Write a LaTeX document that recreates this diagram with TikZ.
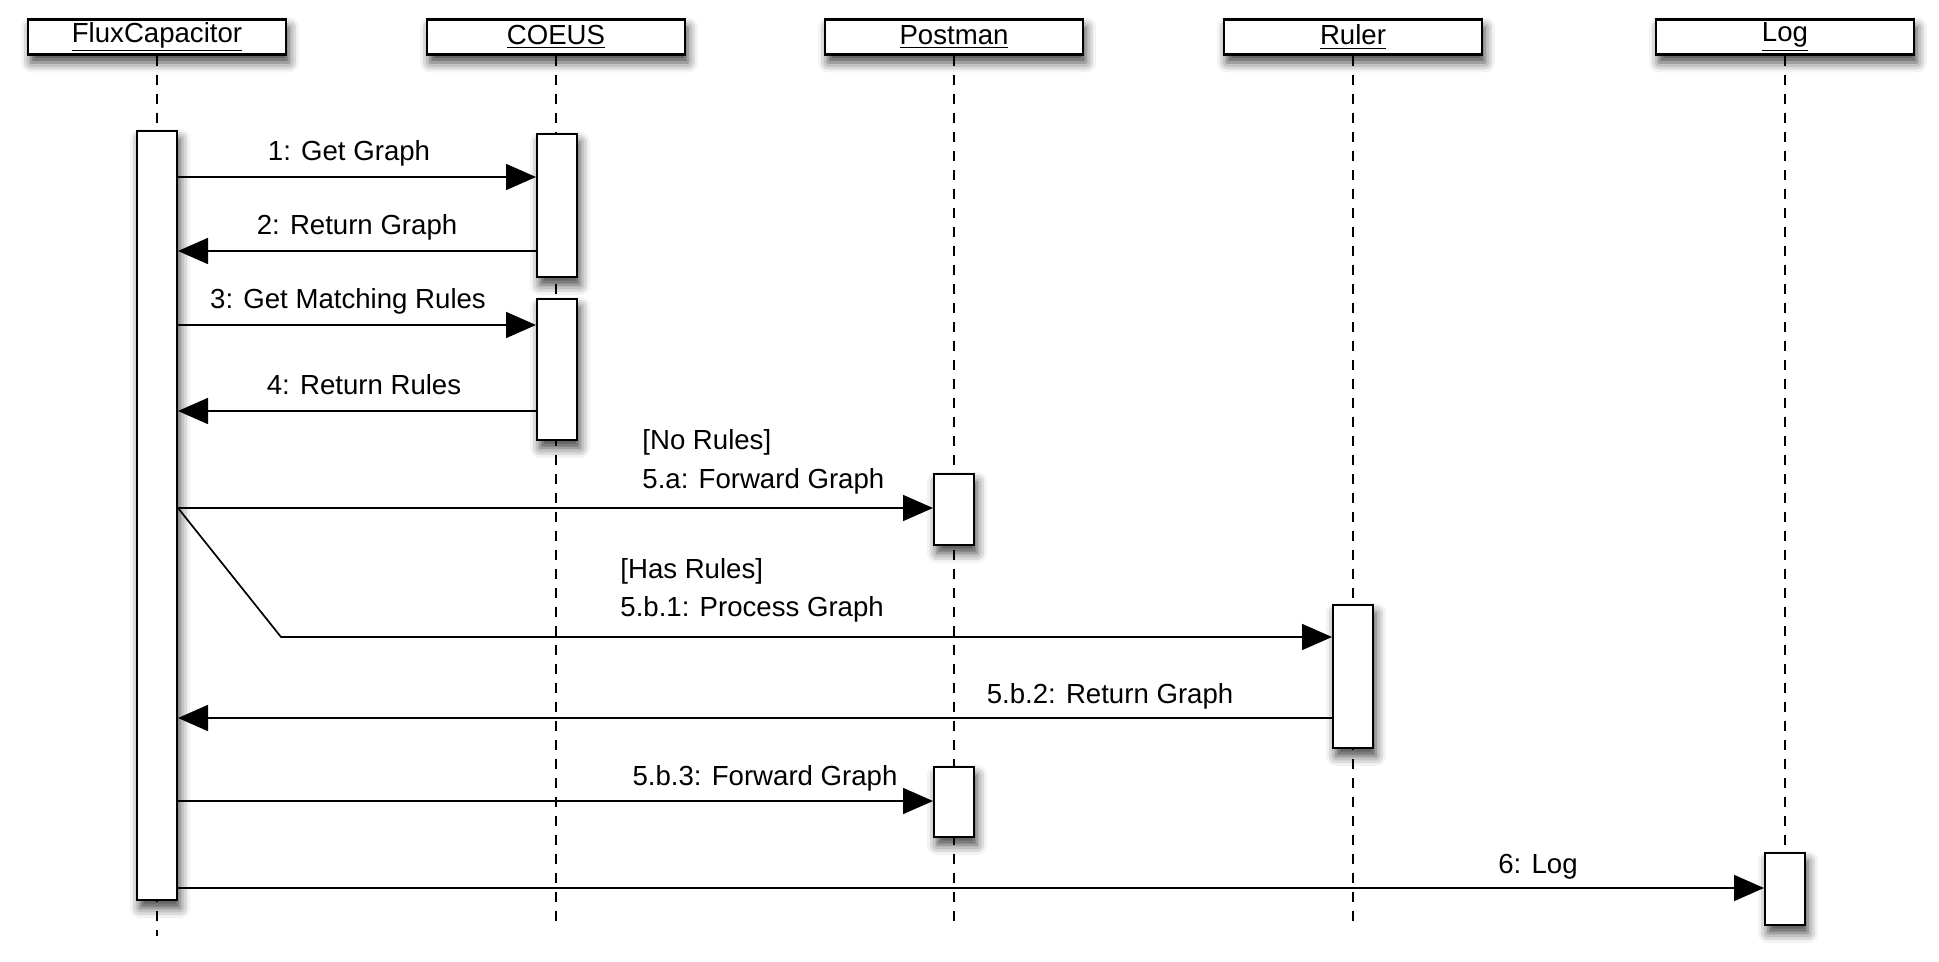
\documentclass[tikz,border=0pt]{standalone}
\usepackage{fontspec}
\setmainfont{Liberation Sans}
\usetikzlibrary{arrows.meta,shadows.blur}

\begin{document}
\begin{tikzpicture}[x=0.5pt, y=-0.5pt, font=\fontsize{13.8}{16}\selectfont,
    obj/.style={draw, line width=1.2pt, fill=white, minimum width=129pt,
      minimum height=17.5pt, inner sep=0pt,
      blur shadow={shadow xshift=1.5pt, shadow yshift=-4pt, shadow blur radius=5pt, shadow opacity=75}},
    act/.style={draw, line width=1pt, fill=white, minimum width=20pt, inner sep=0pt,
      blur shadow={shadow xshift=1.5pt, shadow yshift=-4pt, shadow blur radius=5pt, shadow opacity=75}},
    life/.style={line width=0.9pt, dash pattern=on 5pt off 4.5pt},
    msg/.style={line width=0.85pt, -{Triangle[length=15pt, width=13pt]}},
    lbl/.style={inner sep=0pt, anchor=base}]
  \useasboundingbox (0,0) rectangle (1939,962);

  % Objects
  \node[obj] (hf) at (157,37)  {\underline{FluxCapacitor}};
  \node[obj] (hc) at (556,37)  {\underline{COEUS}};
  \node[obj] (hp) at (954,37)  {\underline{Postman}};
  \node[obj] (hr) at (1353,37) {\underline{Ruler}};
  \node[obj] (hl) at (1785,37) {\underline{Log}};

  % Lifelines
  \coordinate (bot) at (0,928);
  \draw[life] (hf.south) -- (hf.south |- 0,936);
  \foreach \h in {hc,hp,hr,hl}
    \draw[life] (\h.south) -- (\h.south |- bot);

  % Activations
  \node[act, minimum height=384.5pt] (fa)  at (157,515.5)  {};
  \node[act, minimum height=71.5pt]  (ca1) at (557,205.5)  {};
  \node[act, minimum height=70.5pt]  (ca2) at (557,369.5)  {};
  \node[act, minimum height=35.5pt]  (pa1) at (954,509.5)  {};
  \node[act, minimum height=71.5pt]  (ra)  at (1353,676.5) {};
  \node[act, minimum height=35pt]    (pa2) at (954,802)    {};
  \node[act, minimum height=36pt]    (la)  at (1785,889)   {};

  % Message rows
  \coordinate (m1) at (0,177);
  \coordinate (m2) at (0,251);
  \coordinate (m3) at (0,325);
  \coordinate (m4) at (0,411);
  \coordinate (m5) at (0,508);
  \coordinate (m6) at (0,637);
  \coordinate (m7) at (0,718);
  \coordinate (m8) at (0,801);
  \coordinate (m9) at (0,888);
  \coordinate (bend) at (281,637);

  % Messages
  \draw[msg] (fa.east |- m1) -- (ca1.west |- m1);
  \draw[msg] (ca1.west |- m2) -- (fa.east |- m2);
  \draw[msg] (fa.east |- m3) -- (ca2.west |- m3);
  \draw[msg] (ca2.west |- m4) -- (fa.east |- m4);
  \draw[msg] (fa.east |- m5) -- (pa1.west |- m5);
  \draw[msg] (fa.east |- m5) -- (bend) -- (ra.west |- m6);
  \draw[msg] (ra.west |- m7) -- (fa.east |- m7);
  \draw[msg] (fa.east |- m8) -- (pa2.west |- m8);
  \draw[msg] (fa.east |- m9) -- (la.west |- m9);

  % Labels
  \node[lbl] (t1) at (349,161)  {1: Get Graph};
  \node[lbl] (t2) at (357,235)  {2: Return Graph};
  \node[lbl] (t3) at (348,309)  {3: Get Matching Rules};
  \node[lbl] (t4) at (364,395)  {4: Return Rules};
  \node[lbl, anchor=base west] (g5a) at (642,450) {[No Rules]};
  \node[lbl, anchor=base west] (t5a) at (642,488) {5.a: Forward Graph};
  \node[lbl, anchor=base west] (g5b) at (620,579) {[Has Rules]};
  \node[lbl, anchor=base west] (t5b) at (620,617) {5.b.1: Process Graph};
  \node[lbl] (t5c) at (1110,703) {5.b.2: Return Graph};
  \node[lbl] (t5d) at (765,785)  {5.b.3: Forward Graph};
  \node[lbl] (t6)  at (1538,873) {6: Log};
\end{tikzpicture}
\end{document}
